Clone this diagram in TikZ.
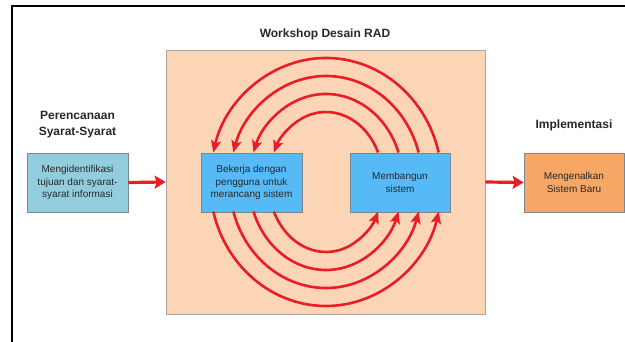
\documentclass[tikz,border=0pt]{standalone}
\usepackage{fontspec}
\setmainfont{Liberation Sans}
\usetikzlibrary{arrows.meta,calc,shadows}
\definecolor{peach}{RGB}{251,213,181}
\definecolor{bluebox}{RGB}{86,186,246}
\definecolor{lblue}{RGB}{146,205,222}
\definecolor{orangebox}{RGB}{246,167,102}
\definecolor{arrred}{RGB}{232,30,36}
\definecolor{edgegray}{RGB}{125,135,145}
\definecolor{txt}{RGB}{40,40,40}
\begin{document}
\begin{tikzpicture}[x=1pt,y=1pt,
  box/.style={draw=edgegray, line width=0.8pt, minimum width=101pt, minimum height=59pt,
    inner sep=2pt, align=center, text=txt, font=\fontsize{10}{12.8}\selectfont,
    drop shadow={opacity=0.25, shadow xshift=1pt, shadow yshift=-1pt}},
  ttl/.style={font=\fontsize{12}{16}\selectfont\bfseries, align=center, text=txt},
  redarr/.style={draw=arrred, line width=3.2pt, -{Stealth[length=11pt,width=13pt,inset=2pt]}},
  loopar/.style={draw=arrred, line width=2.6pt, -{Stealth[length=12pt,width=10pt,inset=2.5pt]}}
]
\useasboundingbox (0,0) rectangle (625,342);
\clip (0,0) rectangle (625,342);
\fill[white] (0,0) rectangle (625,342);
\draw[line width=2pt] (12,-10) -- (12,336) -- (640,336);

\node[draw=gray!70, line width=0.8pt, fill=peach, minimum width=319pt, minimum height=264pt, inner sep=0] (ws) at (325.5,160) {};
\node[ttl] (wst) at (325,308) {Workshop Desain RAD};

\node[ttl] (pst) at (77.5,217) {Perencanaan\\Syarat-Syarat};
\node[box, fill=lblue] (req) at (77.5,159.5) {Mengidentifikasi\\tujuan dan syarat-\\syarat informasi};

\node[box, fill=bluebox] (des) at (251.5,159.5) {Bekerja dengan\\pengguna untuk\\merancang sistem};
\node[box, fill=bluebox, minimum width=100pt] (bld) at (400,159.5) {Membangun\\sistem};

\node[ttl] (imt) at (574,217) {Implementasi};
\node[box, fill=orangebox, minimum width=100pt] (imp) at (574,159.5) {Mengenalkan\\Sistem Baru};

\draw[redarr] (req.east) -- (ws.west);
\draw[redarr] (ws.east) -- (imp.west);

\coordinate (c) at (326,160);
\foreach \a/\b in {116/124, 96.5/106, 77/88, 57.5/70} {
  \pgfmathsetmacro\t{asin(29.5/\b)}
  \draw[loopar] ($(c)+(\t:\a pt and \b pt)$) arc[start angle=\t, end angle=180-\t, x radius=\a pt, y radius=\b pt];
  \draw[loopar] ($(c)+({180+\t}:\a pt and \b pt)$) arc[start angle=180+\t, end angle=360-\t, x radius=\a pt, y radius=\b pt];
}
\end{tikzpicture}
\end{document}
